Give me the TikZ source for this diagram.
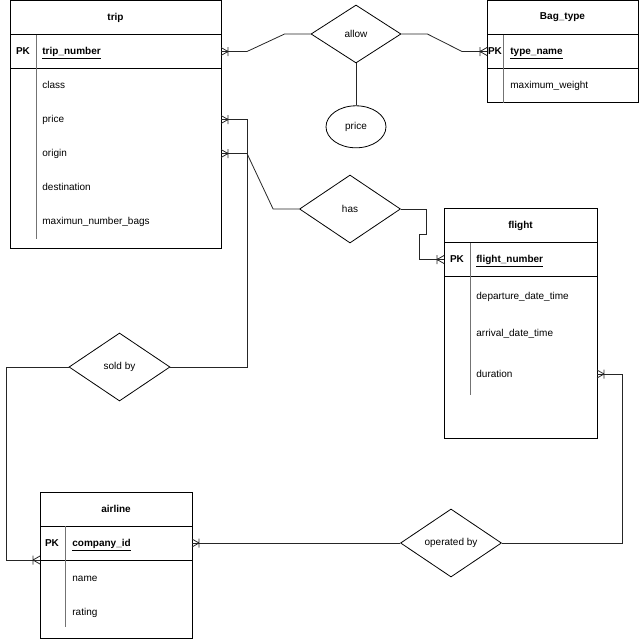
\documentclass[tikz,border=0pt]{standalone}
\usepackage{fontspec}
\setmainfont{Liberation Sans}
\usetikzlibrary{shapes.geometric, positioning, calc}

\pgfarrowsdeclare{crow}{crow}
{\pgfarrowsleftextend{-7.5pt}\pgfarrowsrightextend{0pt}}
{
  \pgfsetdash{}{0pt}
  \pgfpathmoveto{\pgfpoint{-7pt}{0pt}}
  \pgfpathlineto{\pgfpoint{0pt}{4pt}}
  \pgfpathmoveto{\pgfpoint{-7pt}{0pt}}
  \pgfpathlineto{\pgfpoint{0pt}{-4pt}}
  \pgfpathmoveto{\pgfpoint{-7pt}{4.5pt}}
  \pgfpathlineto{\pgfpoint{-7pt}{-4.5pt}}
  \pgfusepathqstroke
}

\begin{document}
\begin{tikzpicture}[
    x=1pt, y=-1pt,
    line width=0.8pt,
    etitle/.style={rectangle, draw, outer sep=0pt, minimum height=34pt, font=\bfseries},
    erow/.style={rectangle, draw, outer sep=0pt, minimum height=34pt},
    pklab/.style={font=\bfseries, inner sep=0pt},
    keyname/.style={anchor=west, inner sep=0pt, font=\bfseries, text height=1.5ex, text depth=.25ex},
    attr/.style={anchor=west, inner sep=0pt, text height=1.5ex, text depth=.25ex},
    divider/.style={draw=black!55, line width=0.6pt},
    rel/.style={diamond, draw, inner sep=0pt, minimum width=101pt, minimum height=68pt},
    prop/.style={ellipse, draw, inner sep=0pt, minimum width=60pt, minimum height=42pt},
    link/.style={draw=black!85},
  ]
    \useasboundingbox (0,0) rectangle (640,640);

    \node[etitle, minimum width=211pt] (trip) at (115.5,17.5) {trip};
    \node[erow, minimum width=211pt, below=0pt of trip] (trip-pk) {};
    \node[erow, minimum width=211pt, minimum height=180pt, below=0pt of trip-pk] (trip-body) {};
    \node[pklab] at ([xshift=13pt]trip-pk.west) {PK};
    \node[keyname] (trip-key) at ([xshift=32pt]trip-pk.west) {\underline{trip\_number}};
    \foreach \name/\txt [count=\i] in {class/class, price/price, origin/origin, destination/destination, bags/maximun\_number\_bags}
      \node[attr] (trip-\name) at ([yshift={-34pt*\i}]trip-key.west) {\txt};
    \draw[divider] ([xshift=26pt]trip-pk.north west) -- ([xshift=26pt, yshift=10pt]trip-body.south west);

    \node[etitle, minimum width=151pt] (bag) at (562.5,17.5) {Bag\_type};
    \node[erow, minimum width=151pt, below=0pt of bag] (bag-pk) {};
    \node[erow, minimum width=151pt, below=0pt of bag-pk] (bag-body) {};
    \node[pklab] at ([xshift=8pt]bag-pk.west) {PK};
    \node[keyname] (bag-key) at ([xshift=23pt]bag-pk.west) {\underline{type\_name}};
    \node[attr] (bag-weight) at ([yshift=-34pt]bag-key.west) {maximum\_weight};
    \draw[divider] ([xshift=16pt]bag-pk.north west) -- ([xshift=16pt]bag-body.south west);

    \node[etitle, minimum width=153pt] (flight) at (520.5,225.5) {flight};
    \node[erow, minimum width=153pt, below=0pt of flight] (flight-pk) {};
    \node[erow, minimum width=153pt, minimum height=162pt, below=0pt of flight-pk] (flight-body) {};
    \node[pklab] at ([xshift=13pt]flight-pk.west) {PK};
    \node[keyname] (flight-key) at ([xshift=32pt]flight-pk.west) {\underline{flight\_number}};
    \node[attr] (flight-departure) at ([yshift=-36.5pt]flight-key.west) {departure\_date\_time};
    \node[attr] (flight-arrival) at ([yshift=-73.5pt]flight-key.west) {arrival\_date\_time};
    \node[attr] (flight-duration) at ([yshift=-114.5pt]flight-key.west) {duration};
    \draw[divider] ([xshift=26pt]flight-pk.north west) -- ([xshift=26pt, yshift=44pt]flight-body.south west);

    \node[etitle, minimum width=152pt] (airline) at (116,509) {airline};
    \node[erow, minimum width=152pt, below=0pt of airline] (airline-pk) {};
    \node[erow, minimum width=152pt, minimum height=78pt, below=0pt of airline-pk] (airline-body) {};
    \node[pklab] at ([xshift=12pt]airline-pk.west) {PK};
    \node[keyname] (airline-key) at ([xshift=32pt]airline-pk.west) {\underline{company\_id}};
    \node[attr] (airline-name) at ([yshift=-35pt]airline-key.west) {name};
    \node[attr] (airline-rating) at ([yshift=-69pt]airline-key.west) {rating};
    \draw[divider] ([xshift=25pt]airline-pk.north west) -- ([xshift=25pt, yshift=11pt]airline-body.south west);

    \node[rel, minimum width=90pt, minimum height=58pt] (allow) at (356,34) {allow};
    \node[prop, below=42pt of allow] (price) {price};
    \node[rel] (has) at (350,209) {has};
    \node[rel] (soldby) at (119.5,367) {sold by};
    \node[rel] (operated) at (451,543) {operated by};

    \draw[link, crow-] (trip-pk.east) -- ++(26,0) -- ([xshift=-26pt]allow.west) -- (allow.west);
    \draw[link, -crow] (allow.east) -- ([xshift=26pt]allow.east) -- ([xshift=-25pt]bag-pk.west) -- (bag-pk.west);
    \draw[link] (allow) -- (price);
    \draw[link, crow-] (trip-price -| trip-body.east) -- ++(26,0) |- (soldby.east);
    \draw[link, crow-] (trip-origin -| trip-body.east) -- ++(26,0) -- ([xshift=-26pt]has.west) -- (has.west);
    \draw[link, -crow] (has.east) -- ++(25,0) -- ++(0,25) -- ++(-7,0) |- (flight-pk.west);
    \draw[link, -crow] (soldby.west) -- ++(-62,0) |- (airline-pk.south west);
    \draw[link, crow-] (airline-pk.east) -- (operated.west);
    \draw[link, -crow] (operated.east) -- ++(120,0) |- (flight-duration -| flight-body.east);
  \end{tikzpicture}
\end{document}
